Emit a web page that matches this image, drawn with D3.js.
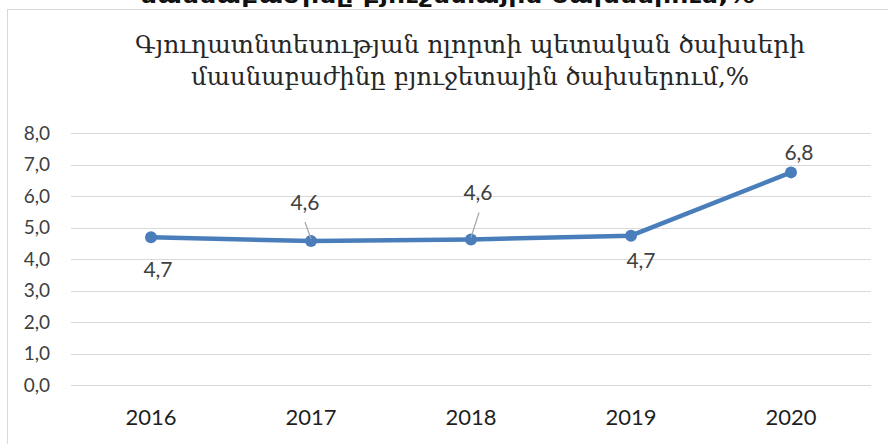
<!DOCTYPE html>
<html>
<head>
<meta charset="utf-8">
<script src="https://cdn.jsdelivr.net/npm/d3@7"></script>
<style>
  html, body { margin: 0; padding: 0; background: #fff; }
  svg { display: block; }
</style>
</head>
<body>
<div id="chart"></div>
<script>
// chart data
var years = ["2016", "2017", "2018", "2019", "2020"];
var shares = [4.69, 4.57, 4.62, 4.74, 6.75];
var shareLabels = ["4,7", "4,6", "4,6", "4,7", "6,8"];
var yTicks = [0, 1, 2, 3, 4, 5, 6, 7, 8];
var titleLines = [
    "Գյուղատնտեսության ոլորտի պետական ծախսերի",
    "մասնաբաժինը բյուջետային ծախսերում,%"
];
var cutHeading = "մասնաբաժինը բյուջետային ծախսերում,%";

var width = 888,
    height = 444,
    margin = { top: 133, right: 17, bottom: 59, left: 71 },
    lineColour = "#4a7ebb",
    gridColour = "#d9d9d9",
    axisFont = "Lato, 'Open Sans', sans-serif";

// where each data label sits relative to its point, and whether it has a leader
var labelPlace = [
    { dx: 7, dy: 40, leader: false },
    { dx: -6, dy: -31, leader: true },
    { dx: 7, dy: -39, leader: true },
    { dx: 10, dy: 32, leader: false },
    { dx: 8, dy: -12, leader: false }
];

var svg = d3.select("#chart").append("svg")
    .attr("width", width)
    .attr("height", height);

var x = d3.scaleBand().domain(years).range([margin.left, width - margin.right]),
    y = d3.scaleLinear().domain([0, 8]).range([height - margin.bottom, margin.top]);

// chart area border (partly off screen)
svg.append("rect")
    .attr("x", 7.5).attr("y", 9.5)
    .attr("width", width + 20).attr("height", height + 20)
    .attr("fill", "none")
    .attr("stroke", gridColour);

// heading of the page above, cut by the crop
svg.append("text")
    .attr("x", 140).attr("y", 3)
    .attr("textLength", 615)
    .attr("lengthAdjust", "spacingAndGlyphs")
    .style("font-family", "'DejaVu Sans', sans-serif")
    .style("font-weight", "bold")
    .style("font-size", "22px")
    .style("fill", "#111")
    .text(cutHeading);

// title
var titleWidths = [670, 558];
svg.selectAll(".title")
    .data(titleLines)
    .enter().append("text")
    .attr("class", "title")
    .attr("x", 470)
    .attr("y", function (d, i) { return 53 + i * 32; })
    .attr("text-anchor", "middle")
    .attr("textLength", function (d, i) { return titleWidths[i]; })
    .attr("lengthAdjust", "spacingAndGlyphs")
    .style("font-family", "'DejaVu Serif', serif")
    .style("font-size", "24px")
    .style("fill", "#262626")
    .text(function (d) { return d; });

// gridlines
svg.append("g")
    .selectAll("line")
    .data(yTicks)
    .enter().append("line")
    .attr("x1", margin.left).attr("x2", width - margin.right)
    .attr("y1", function (d) { return Math.round(y(d)) + 0.5; })
    .attr("y2", function (d) { return Math.round(y(d)) + 0.5; })
    .attr("stroke", gridColour)
    .attr("stroke-width", 1);

// y tick labels
svg.append("g")
    .selectAll("text")
    .data(yTicks)
    .enter().append("text")
    .attr("x", 50)
    .attr("y", function (d) { return y(d); })
    .attr("dy", "0.36em")
    .attr("text-anchor", "end")
    .style("font-family", axisFont)
    .style("font-size", "19px")
    .style("fill", "#404040")
    .text(function (d) { return d3.format(".1f")(d).replace(".", ","); });

// x labels
svg.append("g")
    .selectAll("text")
    .data(years)
    .enter().append("text")
    .attr("x", function (d) { return x(d) + x.bandwidth() / 2; })
    .attr("y", 425)
    .attr("text-anchor", "middle")
    .style("font-family", axisFont)
    .style("font-size", "22px")
    .style("fill", "#1f1f1f")
    .text(function (d) { return d; });

var pts = years.map(function (d, i) {
    return { year: d, value: shares[i], label: shareLabels[i], place: labelPlace[i],
             cx: x(d) + x.bandwidth() / 2, cy: y(shares[i]) };
});

// the line
svg.append("path")
    .datum(pts)
    .attr("fill", "none")
    .attr("stroke", lineColour)
    .attr("stroke-width", 4.5)
    .attr("stroke-linejoin", "round")
    .attr("d", d3.line().x(function (d) { return d.cx; }).y(function (d) { return d.cy; }));

svg.selectAll(".dot")
    .data(pts)
    .enter().append("circle")
    .attr("class", "dot")
    .attr("cx", function (d) { return d.cx; })
    .attr("cy", function (d) { return d.cy; })
    .attr("r", 6)
    .attr("fill", lineColour);

// leader lines for labels moved away from their points
svg.selectAll(".leader")
    .data(pts.filter(function (d) { return d.place.leader; }))
    .enter().append("line")
    .attr("class", "leader")
    .attr("x1", function (d) { return d.cx + d.place.dx + (d.place.dx > 0 ? 1 : 0); })
    .attr("y1", function (d) { return d.cy + d.place.dy + 12; })
    .attr("x2", function (d) { return d.cx; })
    .attr("y2", function (d) { return d.cy - 2; })
    .attr("stroke", "#a6a6a6")
    .attr("stroke-width", 1.2);

// data labels
svg.selectAll(".val")
    .data(pts)
    .enter().append("text")
    .attr("class", "val")
    .attr("x", function (d) { return d.cx + d.place.dx; })
    .attr("y", function (d) { return d.cy + d.place.dy; })
    .attr("text-anchor", "middle")
    .style("font-family", axisFont)
    .style("font-size", "21px")
    .style("fill", "#404040")
    .text(function (d) { return d.label; });
</script>
</body>
</html>
